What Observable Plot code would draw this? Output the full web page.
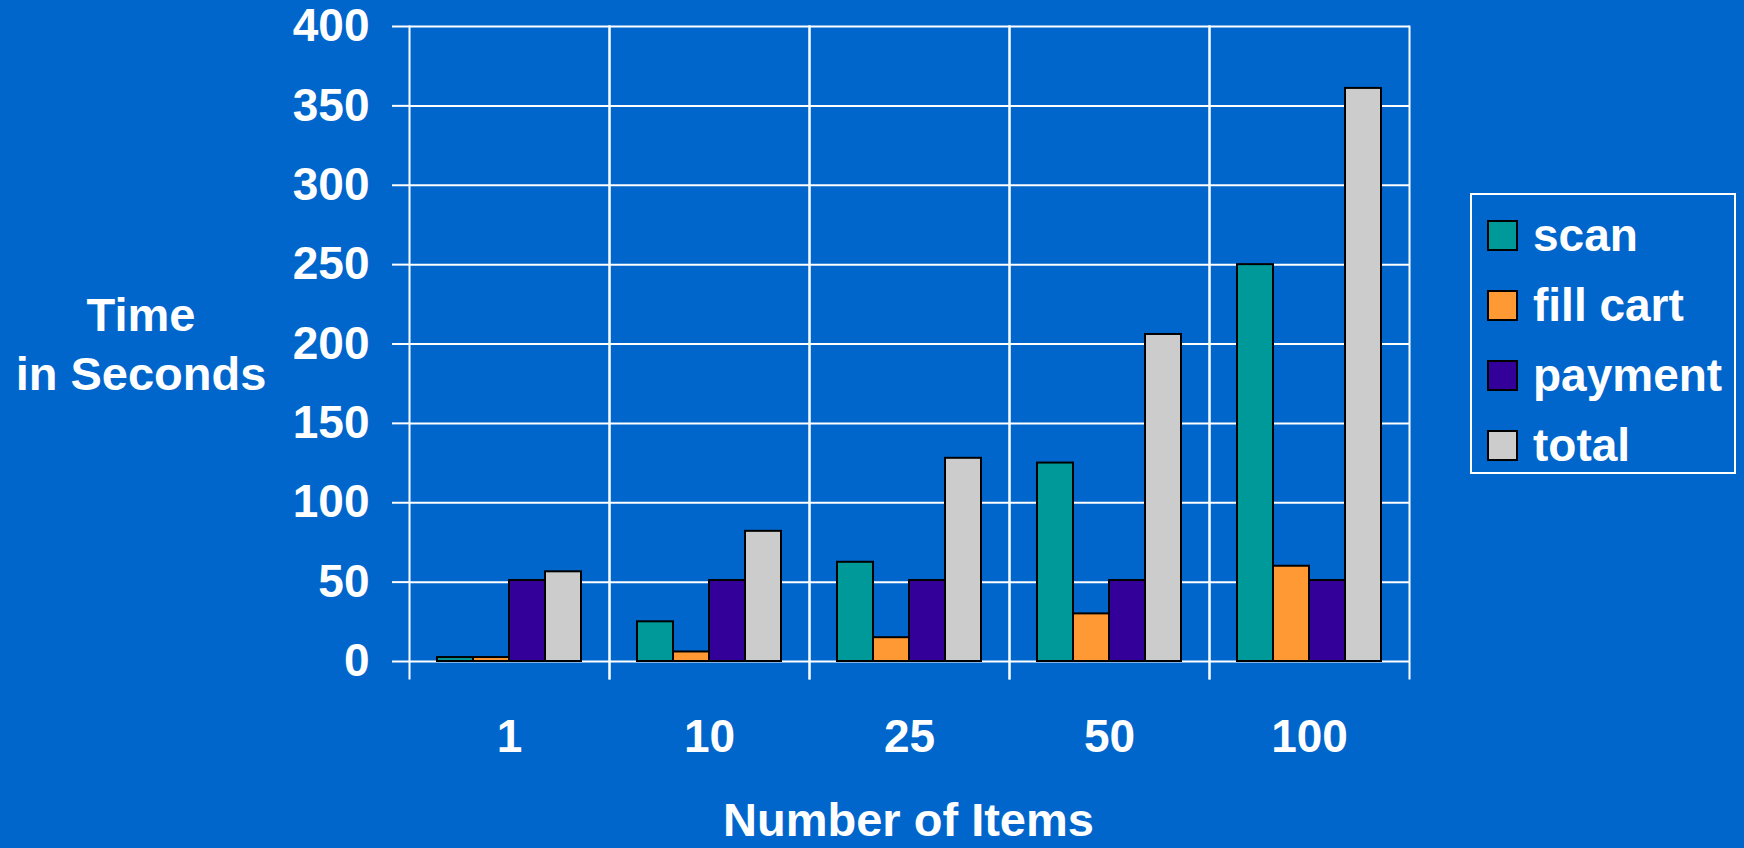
<!DOCTYPE html>
<html>
<head>
<meta charset="utf-8">
<script src="https://cdn.jsdelivr.net/npm/d3@7"></script>
<script src="https://cdn.jsdelivr.net/npm/@observablehq/plot@0.6"></script>
<style>
  html, body { margin: 0; padding: 0; background: #0066CC; }
  #page { position: relative; width: 1744px; height: 848px; overflow: hidden;
          font-family: "Liberation Sans", Arial, sans-serif; font-weight: bold; color: #fff; }
  #chart svg { display: block; }
  .ytitle { position: absolute; left: 0; width: 282px; top: 285px; text-align: center;
            font-size: 47px; line-height: 59px; }
  .xtitle { position: absolute; left: 407px; width: 1003px; top: 800px; text-align: center;
            font-size: 47px; line-height: 40px; }
  #legend { position: absolute; left: 1470px; top: 193px; width: 266px; height: 281px;
            box-sizing: border-box; border: 2px solid #fff; }
  .row { position: absolute; left: 15px; font-size: 46px; line-height: 46px; white-space: nowrap; }
  .sw { display: inline-block; width: 31px; height: 31px; box-sizing: border-box;
        border: 2px solid #000; margin-right: 15px; }
</style>
</head>
<body>
<div id="page">
  <div id="chart"></div>
  <div class="ytitle">Time<br>in Seconds</div>
  <div class="xtitle">Number of Items</div>
  <div id="legend"></div>
</div>
<script>
// Item counts on the horizontal axis
const categories = ["1", "10", "25", "50", "100"];
// Timed phases of a checkout
const series = ["scan", "fill cart", "payment", "total"];
const colors = ["#009999", "#FF9933", "#330099", "#CCCCCC"];
// Seconds per phase, one value per item count
const scan = [2.5, 25, 62.5, 125, 250];
const fillCart = [2.5, 6, 15, 30, 60];
const payment = [51, 51, 51, 51, 51];
const total = [56.5, 82, 128, 206, 361];
const yTicks = [0, 50, 100, 150, 200, 250, 300, 350, 400];

const valuesBySeries = [scan, fillCart, payment, total];
const rows = [];
categories.forEach((c, i) => {
  series.forEach((s, j) => rows.push({category: c, series: s, value: valuesBySeries[j][i]}));
});

const font = {fontSize: 46, fontWeight: "bold"};

const chart = Plot.plot({
  width: 1744,
  height: 848,
  marginLeft: 407,
  marginRight: 334,
  marginTop: 26,
  marginBottom: 187,
  style: {background: "#0066CC", color: "#fff", fontFamily: "'Liberation Sans', Arial, sans-serif"},
  fx: {domain: categories, paddingInner: 0, paddingOuter: 0, label: null},
  x: {domain: series, paddingInner: 0, paddingOuter: 0.738, axis: null},
  y: {domain: [0, 400], label: null},
  color: {domain: series, range: colors},
  marks: [
    Plot.gridY(yTicks, {stroke: "#fff", strokeOpacity: 1, strokeWidth: 2}),
    Plot.frame({anchor: "left", stroke: "#fff", strokeWidth: 2, insetBottom: -17}),
    Plot.frame({anchor: "right", stroke: "#fff", strokeWidth: 2, insetBottom: -17}),
    Plot.barY(rows, {fx: "category", x: "series", y: "value", fill: "series",
                     stroke: "#000", strokeWidth: 2}),
    Plot.axisY(yTicks, {tickSize: 17, tickPadding: 23, stroke: "#fff", strokeWidth: 2,
                        fill: "#fff", label: null, ...font}),
    Plot.axisFx({anchor: "bottom", tickSize: 0, tickPadding: 58, fill: "#fff", label: null, ...font})
  ]
});
document.getElementById("chart").appendChild(chart);

// Legend box
const legend = document.getElementById("legend");
series.forEach((s, j) => {
  const row = document.createElement("div");
  row.className = "row";
  row.style.top = (17 + 70 * j) + "px";
  const sw = document.createElement("span");
  sw.className = "sw";
  sw.style.background = colors[j];
  row.appendChild(sw);
  row.appendChild(document.createTextNode(s));
  legend.appendChild(row);
});
</script>
</body>
</html>
